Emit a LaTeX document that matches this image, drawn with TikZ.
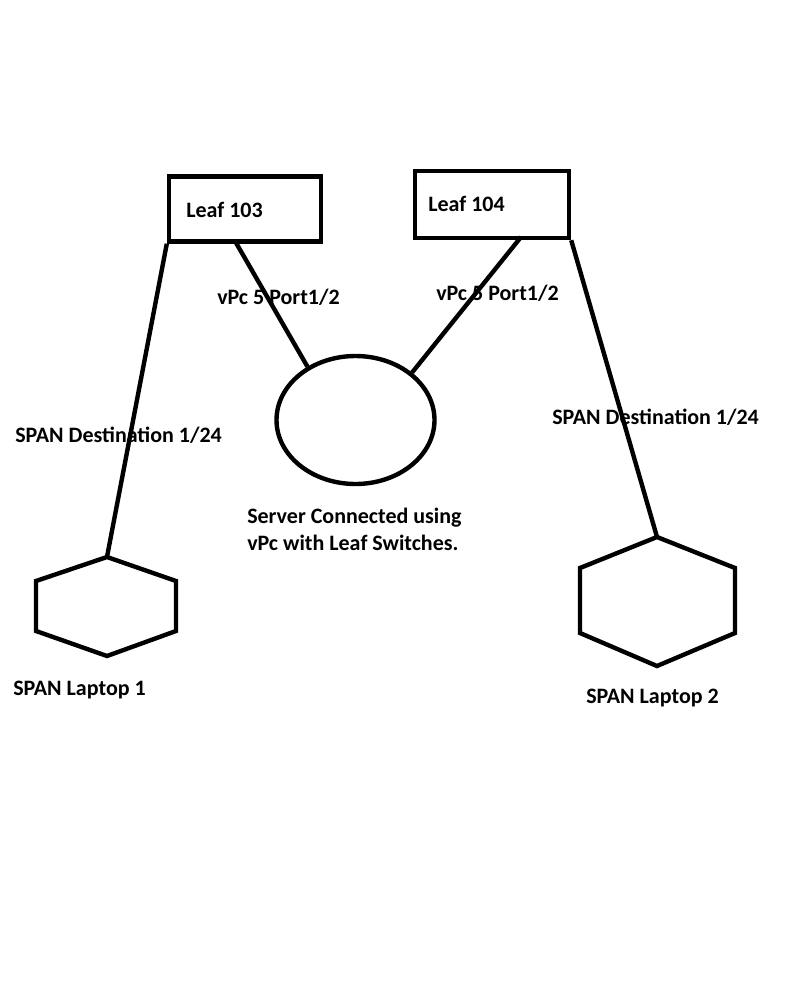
\documentclass[tikz,border=0pt]{standalone}
\usepackage{fontspec}
\setmainfont{Carlito}
\usetikzlibrary{shapes.geometric}
\begin{document}
\begin{tikzpicture}[x=0.75pt,y=-0.75pt,
  every node/.style={font=\fontsize{16.5}{20.25}\selectfont\bfseries, inner sep=0pt},
  leafbox/.style={draw, line width=3.3pt, minimum width={152*0.75pt}, minimum height={65*0.75pt}},
  srvshape/.style={draw, ellipse, line width=3.3pt, minimum width={158*0.75pt}, minimum height={128*0.75pt}},
  lbl/.style={anchor=base west},
  hexline/.style={line width=3.3pt, line join=miter},
  conn/.style={line width=3.3pt}]
\fill[white] (0,0) rectangle (800,999);
\useasboundingbox (0,0) rectangle (800,999);
% switches
\node[leafbox] (l103) at (245,209) {};
\node[leafbox, minimum width={154*0.75pt}, minimum height={67*0.75pt}] (l104) at (492,204.5) {};
\node[srvshape] (srv) at (355.5,420) {};
% laptops
\draw[hexline] (107,557) coordinate (lap1top) -- (176,581) -- (176,631) -- (107,656) -- (36,631) -- (36,581) -- cycle;
\draw[hexline] (657,537) coordinate (lap2top) -- (735,568) -- (735,633) -- (657,666) -- (580,633) -- (580,568) -- cycle;
% labels
\node[lbl] (t103) at (186,217) {Leaf 103};
\node[lbl] (t104) at (428,211) {Leaf 104};
\node[lbl] (vpc1) at (217,304) {vPc 5 Port1/2};
\node[lbl] (vpc2) at (436,300) {vPc 5 Port1/2};
\node[lbl] (span1) at (15,442) {SPAN Destination 1/24};
\node[lbl] (span2) at (552,424) {SPAN Destination 1/24};
\node[anchor=base west, align=left] (srvtxt) at (247,550) {Server Connected using\\vPc with Leaf Switches.};
\node[lbl] (lt1) at (13,695) {SPAN Laptop 1};
\node[lbl] (lt2) at (586,703) {SPAN Laptop 2};
% connectors
\coordinate (p103) at (235,241);
\coordinate (p104) at (521,237);
\draw[conn] (l103.south west) -- (lap1top);
\draw[conn] (p103) -- (srv.132);
\draw[conn] (p104) -- (srv.40);
\draw[conn] (l104.south east) -- (lap2top);
\end{tikzpicture}
\end{document}
